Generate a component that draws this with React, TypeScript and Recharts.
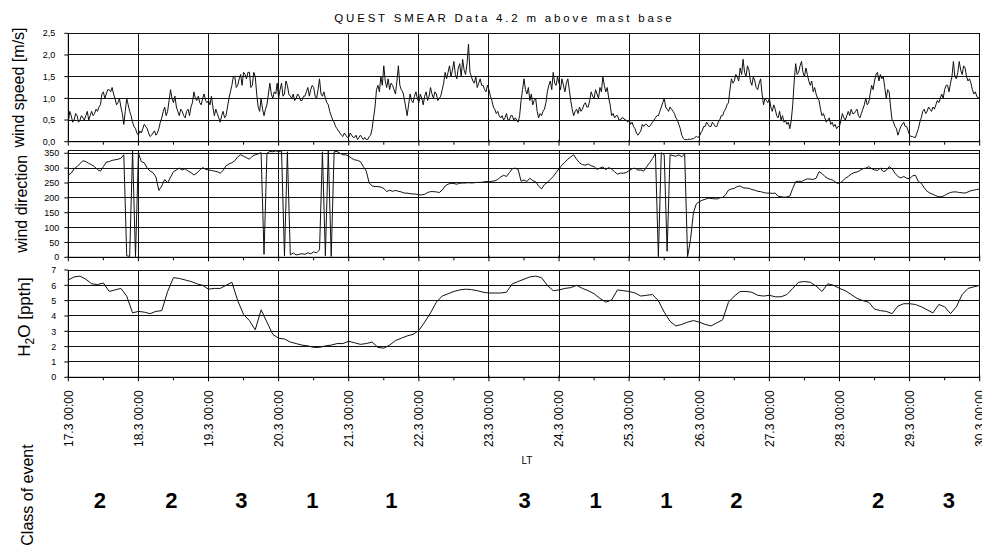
import React from 'react';
import { LineChart, Line, XAxis, YAxis, CartesianGrid, ScatterChart, Scatter } from 'recharts';

const FONT = '"Liberation Sans", Arial, sans-serif';
const W = 982;
const H = 546;

// half-hourly wind speed [m/s], one row per day, 17.3 00:00 .. 30.3 00:00
const WIND_SPEED = [
  0.45, 0.7, 0.6, 0.45, 0.5, 0.65, 0.6, 0.45, 0.5, 0.6, 0.55, 0.5, 0.6, 0.7, 0.5, 0.6, 0.7, 0.6, 0.65, 0.75, 0.7, 0.8, 0.85, 1.1,
  1.15, 1.0, 1.1, 1.2, 1.2, 1.15, 1.25, 1.1, 1.0, 0.85, 0.9, 1.0, 0.8, 0.65, 0.4, 0.7, 1.0, 0.85, 0.7, 0.6, 0.45, 0.35, 0.3, 0.2,
  0.15, 0.25, 0.2, 0.3, 0.4, 0.35, 0.3, 0.2, 0.12, 0.15, 0.2, 0.25, 0.15, 0.2, 0.3, 0.45, 0.55, 0.7, 0.8, 0.6, 0.7, 0.95, 1.2, 1.0,
  0.9, 1.05, 0.8, 0.7, 0.6, 0.75, 0.7, 0.6, 0.55, 0.7, 0.75, 0.6, 0.8, 0.9, 1.15, 1.0, 0.95, 1.05, 0.9, 0.85, 1.0, 1.1, 0.95, 0.9,
  0.95, 0.85, 1.05, 0.8, 0.6, 0.75, 0.65, 0.55, 0.45, 0.6, 0.7, 0.55, 0.6, 0.8, 1.0, 1.15, 1.3, 1.5, 1.5, 1.25, 1.3, 1.45, 1.55, 1.3,
  1.6, 1.55, 1.45, 1.6, 1.6, 1.25, 1.3, 1.6, 1.5, 1.1, 0.8, 0.7, 1.0, 0.75, 0.6, 0.75, 0.85, 1.1, 1.35, 1.1, 1.0, 1.15, 1.1, 1.35,
  1.0, 1.2, 1.35, 1.05, 1.1, 1.4, 1.3, 1.1, 1.05, 1.0, 1.1, 0.95, 1.0, 1.1, 1.05, 0.95, 0.95, 1.05, 1.05, 1.15, 1.25, 1.05, 1.2, 1.3,
  1.25, 1.05, 1.0, 1.2, 1.45, 1.1, 1.05, 1.15, 1.0, 0.9, 0.85, 0.7, 0.6, 0.5, 0.45, 0.35, 0.3, 0.25, 0.2, 0.15, 0.12, 0.2, 0.15, 0.1,
  0.1, 0.2, 0.15, 0.1, 0.1, 0.15, 0.05, 0.1, 0.15, 0.1, 0.05, 0.1, 0.05, 0.05, 0.12, 0.15, 0.3, 0.55, 0.8, 1.2, 1.3, 1.15, 1.5, 1.3,
  1.75, 1.4, 1.25, 1.45, 1.2, 1.35, 1.3, 1.2, 1.1, 1.4, 1.75, 1.3, 1.2, 1.15, 1.0, 0.8, 0.6, 0.85, 1.1, 0.95, 0.9, 1.05, 1.15, 1.0,
  0.9, 1.1, 1.0, 0.85, 1.05, 1.15, 0.95, 1.05, 1.25, 1.1, 1.0, 1.15, 1.1, 0.95, 1.0, 1.05, 1.2, 1.35, 1.6, 1.45, 1.6, 1.75, 1.5, 1.65,
  1.85, 1.55, 1.45, 1.7, 1.8, 1.5, 1.9, 1.65, 1.55, 1.8, 2.25, 1.6, 1.5, 1.4, 1.35, 1.5, 1.25, 1.35, 1.45, 1.3, 1.3, 1.2, 1.15, 1.3,
  1.2, 1.05, 0.95, 0.8, 0.75, 0.65, 0.7, 0.6, 0.55, 0.6, 0.5, 0.55, 0.65, 0.5, 0.5, 0.6, 0.6, 0.5, 0.55, 0.5, 0.45, 0.6, 0.95, 1.2,
  1.45, 1.2, 1.1, 1.25, 0.95, 1.1, 0.85, 0.95, 1.0, 0.7, 0.55, 0.65, 0.6, 0.7, 0.75, 0.9, 1.15, 1.3, 1.4, 1.2, 1.6, 1.35, 1.3, 1.5,
  1.35, 1.2, 1.45, 1.3, 1.15, 1.35, 1.45, 1.2, 0.95, 0.75, 0.6, 0.7, 0.75, 0.65, 0.8, 0.7, 0.75, 0.85, 0.9, 0.8, 0.8, 0.95, 1.15, 1.05,
  1.0, 1.2, 1.1, 1.0, 1.25, 1.15, 1.5, 1.3, 1.15, 1.25, 1.0, 0.85, 0.6, 0.65, 0.55, 0.6, 0.6, 0.5, 0.5, 0.55, 0.55, 0.5, 0.5, 0.45,
  0.5, 0.4, 0.45, 0.35, 0.3, 0.2, 0.15, 0.2, 0.25, 0.4, 0.35, 0.4, 0.4, 0.35, 0.35, 0.4, 0.45, 0.5, 0.55, 0.6, 0.6, 0.7, 0.8, 0.9,
  1.0, 0.8, 0.75, 0.7, 0.8, 0.75, 0.7, 0.65, 0.55, 0.5, 0.4, 0.3, 0.15, 0.08, 0.05, 0.05, 0.05, 0.06, 0.05, 0.07, 0.07, 0.1, 0.12, 0.1,
  0.12, 0.2, 0.25, 0.35, 0.35, 0.45, 0.4, 0.35, 0.35, 0.45, 0.4, 0.35, 0.35, 0.45, 0.5, 0.6, 0.6, 0.7, 0.75, 0.85, 0.9, 1.2, 1.45, 1.35,
  1.4, 1.55, 1.5, 1.4, 1.7, 1.55, 1.9, 1.6, 1.5, 1.75, 1.65, 1.4, 1.3, 1.5, 1.4, 1.25, 1.2, 1.35, 1.45, 1.1, 0.85, 1.0, 0.95, 0.9,
  1.0, 0.8, 0.7, 0.85, 0.75, 0.6, 0.55, 0.7, 0.5, 0.6, 0.45, 0.5, 0.4, 0.45, 0.3, 0.5, 0.85, 1.4, 1.8, 1.55, 1.6, 1.75, 1.85, 1.6,
  1.5, 1.7, 1.55, 1.4, 1.3, 1.4, 1.15, 1.25, 1.1, 1.0, 0.95, 0.75, 0.6, 0.65, 0.55, 0.45, 0.5, 0.55, 0.4, 0.45, 0.35, 0.4, 0.3, 0.35,
  0.35, 0.5, 0.65, 0.55, 0.5, 0.6, 0.7, 0.6, 0.75, 0.65, 0.65, 0.7, 0.75, 0.6, 0.55, 0.65, 0.75, 0.85, 1.0, 0.85, 0.9, 1.1, 1.3, 1.2,
  1.4, 1.55, 1.6, 1.4, 1.55, 1.45, 1.5, 1.25, 1.0, 1.2, 1.15, 0.8, 0.5, 0.45, 0.35, 0.3, 0.15, 0.25, 0.35, 0.4, 0.45, 0.35, 0.35, 0.25,
  0.15, 0.12, 0.12, 0.1, 0.1, 0.2, 0.3, 0.45, 0.55, 0.7, 0.75, 0.65, 0.7, 0.8, 0.75, 0.7, 0.8, 0.75, 0.85, 0.95, 0.9, 1.0, 1.1, 1.0,
  1.2, 1.3, 1.3, 1.15, 1.35, 1.5, 1.85, 1.5, 1.45, 1.6, 1.85, 1.65, 1.55, 1.75, 1.7, 1.5, 1.4, 1.45, 1.35, 1.2, 1.1, 1.15, 1.05, 1.0,
  1.05,
];

// hourly wind direction [deg]
const WIND_DIR = [
  277, 283, 298, 305, 315, 325, 322, 316, 311, 305, 295, 290, 305, 320, 322, 326, 328, 330, 333, 345, 5, 3, 358, 2,
  350, 322, 318, 300, 290, 285, 270, 225, 240, 262, 250, 270, 288, 294, 300, 294, 298, 290, 285, 277, 283, 294, 302, 296,
  294, 292, 290, 288, 283, 292, 308, 314, 318, 325, 338, 345, 340, 335, 330, 340, 345, 348, 352, 10, 350, 356, 355, 358,
  356, 358, 5, 355, 8, 15, 8, 10, 12, 10, 15, 12, 18, 15, 25, 355, 5, 358, 3, 355, 356, 350, 345, 345,
  340, 333, 328, 326, 322, 305, 290, 250, 240, 238, 238, 236, 232, 221, 226, 222, 225, 222, 220, 216, 216, 214, 213, 213,
  210, 210, 212, 218, 221, 221, 220, 218, 226, 240, 246, 249, 248, 246, 249, 250, 250, 251, 250, 251, 252, 252, 253, 255,
  254, 256, 257, 262, 270, 276, 272, 285, 298, 300, 295, 256, 260, 255, 266, 258, 254, 240, 230, 245, 252, 262, 272, 285,
  298, 310, 320, 330, 338, 345, 330, 318, 312, 310, 314, 308, 305, 296, 300, 304, 295, 302, 297, 288, 280, 283, 283, 285,
  292, 298, 300, 293, 294, 290, 305, 318, 332, 350, 2, 352, 345, 20, 345, 342, 340, 345, 338, 348, 2, 60, 150, 180,
  187, 192, 195, 199, 198, 197, 196, 200, 202, 210, 226, 230, 232, 238, 240, 234, 233, 232, 228, 226, 222, 221, 218, 216,
  216, 215, 216, 205, 204, 202, 203, 206, 232, 254, 256, 255, 260, 264, 263, 262, 266, 288, 282, 272, 265, 262, 258, 250,
  249, 256, 266, 272, 280, 285, 287, 292, 298, 300, 305, 298, 294, 292, 300, 288, 292, 305, 298, 283, 272, 267, 272, 266,
  264, 274, 276, 255, 249, 234, 222, 216, 212, 207, 204, 204, 208, 214, 218, 220, 220, 218, 217, 216, 220, 224, 226, 228,
  230,
];

// 2-hourly H2O [ppth]
const H2O = [
  6.35, 6.55, 6.6, 6.4, 6.1, 6.05, 6.15, 5.6, 5.7, 5.8, 5.3, 4.2,
  4.3, 4.25, 4.15, 4.3, 4.35, 5.6, 6.5, 6.45, 6.35, 6.25, 6.1, 6.0,
  5.75, 5.8, 5.8, 6.0, 6.2, 5.0, 4.1, 3.7, 3.1, 4.4, 3.6, 2.8,
  2.55, 2.5, 2.3, 2.2, 2.1, 2.05, 1.95, 1.95, 2.05, 2.1, 2.2, 2.2,
  2.35, 2.25, 2.15, 2.2, 2.3, 1.95, 1.9, 2.1, 2.4, 2.55, 2.7, 2.8,
  3.05, 3.6, 4.2, 4.9, 5.3, 5.45, 5.6, 5.7, 5.75, 5.72, 5.65, 5.55,
  5.5, 5.5, 5.5, 5.55, 6.1, 6.25, 6.4, 6.55, 6.6, 6.5, 6.0, 5.65,
  5.7, 5.8, 5.85, 6.0, 5.8, 5.65, 5.45, 5.15, 4.9, 5.05, 5.7, 5.65,
  5.6, 5.5, 5.3, 5.35, 5.4, 5.0, 4.25, 3.65, 3.35, 3.45, 3.6, 3.7,
  3.6, 3.45, 3.35, 3.55, 3.75, 4.9, 5.3, 5.6, 5.6, 5.55, 5.35, 5.3,
  5.35, 5.25, 5.25, 5.4, 5.8, 6.2, 6.25, 6.2, 5.95, 5.6, 6.1, 6.0,
  5.8, 5.65, 5.4, 5.15, 5.0, 4.9, 4.45, 4.35, 4.3, 4.15, 4.65, 4.8,
  4.8, 4.75, 4.6, 4.4, 4.2, 4.75, 4.6, 4.15, 4.6, 5.4, 5.8, 5.9,
  6.0,
];

// class of event, placed at day offsets from 17.3 00:00
const CLASS_DAY = [0.45, 1.47, 2.47, 3.48, 4.61, 6.51, 7.52, 8.53, 9.53, 11.55, 12.56];
const CLASS_VALUE = [2, 2, 3, 1, 1, 3, 1, 1, 2, 2, 3];

const DAY_TICKS = [0, 1, 2, 3, 4, 5, 6, 7, 8, 9, 10, 11, 12, 13];
const HALF_DAY_TICKS = DAY_TICKS.flatMap((d) => (d < 13 ? [d, d + 0.5] : [d]));
const SPEED_TICKS = [0, 0.5, 1, 1.5, 2, 2.5];
const DIR_TICKS = [0, 50, 100, 150, 200, 250, 300, 350];
const DIR_GRID = [...DIR_TICKS, 360];
const H2O_TICKS = [0, 1, 2, 3, 4, 5, 6, 7];

const speedData = WIND_SPEED.map((v, i) => ({ t: i / 48, v }));
const dirData = WIND_DIR.map((v, i) => ({ t: i / 24, v }));
const h2oData = H2O.map((v, i) => ({ t: i / 12, v }));
const classData = CLASS_DAY.map((t, i) => ({ t, y: 0.5, c: CLASS_VALUE[i] }));

const DayTick = (props: any) => {
  const { x, y, payload, showLabel } = props;
  const major = Number.isInteger(payload.value);
  const ly = y + 13;
  return (
    <g>
      <line x1={x} x2={x} y1={major ? y - 2 : y} y2={y + (major ? 4 : 3)} stroke="#000" />
      {major && showLabel && (
        <text
          x={x}
          y={ly}
          transform={`rotate(-90 ${x} ${ly})`}
          textAnchor="end"
          dy="0.36em"
          fontSize={12}
          fontFamily={FONT}
          fill="#000"
        >
          {`${17 + payload.value}.3 00:00`}
        </text>
      )}
    </g>
  );
};

interface PanelProps {
  data: { t: number; v: number }[];
  top: number;
  bottom: number;
  domain: [number, number];
  ticks: number[];
  grid: number[];
  fmt: (v: number) => string;
  tickMargin: number;
  showLabels?: boolean;
}

// x axis is 1px tall (0 would not be drawn), so bottom margin is one less
const Panel: React.FC<PanelProps> = ({ data, top, bottom, domain, ticks, grid, fmt, tickMargin, showLabels = false }) => (
  <div style={{ position: 'absolute', left: 0, top: 0 }}>
    <LineChart width={W} height={H} data={data} margin={{ top, bottom: H - bottom - 1, left: 8.3, right: 2.3 }}>
      <CartesianGrid stroke="#111" verticalValues={DAY_TICKS} horizontalValues={grid} shapeRendering="crispEdges" />
      <XAxis
        type="number"
        dataKey="t"
        domain={[0, 13]}
        ticks={HALF_DAY_TICKS}
        interval={0}
        height={1}
        allowDataOverflow
        axisLine={{ stroke: '#000' }}
        tickLine={false}
        tickSize={0}
        tickMargin={0}
        tick={<DayTick showLabel={showLabels} />}
      />
      <YAxis
        type="number"
        domain={domain}
        ticks={ticks}
        interval={0}
        width={60}
        allowDataOverflow
        tickSize={4}
        tickMargin={tickMargin}
        tickFormatter={fmt}
        axisLine={{ stroke: '#000' }}
        tickLine={{ stroke: '#000' }}
        tick={{ fontSize: 9, fill: '#000', fontFamily: FONT }}
      />
      <Line type="linear" dataKey="v" stroke="#111" strokeWidth={1} dot={false} isAnimationActive={false} />
    </LineChart>
  </div>
);

const ClassLabel = (props: any) => (
  <text x={props.cx} y={props.cy} dy="0.36em" textAnchor="middle" fontSize={22} fontWeight="bold" fontFamily={FONT} fill="#000">
    {props.payload.c}
  </text>
);

export default function App() {
  return (
    <div style={{ position: 'absolute', left: 0, top: 0, width: W, height: H, background: '#fff', fontFamily: FONT }}>
      <Panel
        data={speedData}
        top={33.3}
        bottom={141.7}
        domain={[0, 2.5]}
        ticks={SPEED_TICKS}
        grid={SPEED_TICKS}
        fmt={(v) => v.toFixed(1).replace('.', ',')}
        tickMargin={9}
      />
      <Panel
        data={dirData}
        top={150.3}
        bottom={257.3}
        domain={[0, 360]}
        ticks={DIR_TICKS}
        grid={DIR_GRID}
        fmt={(v) => String(v)}
        tickMargin={5}
      />
      <Panel
        data={h2oData}
        top={270}
        bottom={377.3}
        domain={[0, 7]}
        ticks={H2O_TICKS}
        grid={H2O_TICKS}
        fmt={(v) => String(v)}
        tickMargin={8}
        showLabels
      />
      <div style={{ position: 'absolute', left: 0, top: 0 }}>
        <ScatterChart width={W} height={H} margin={{ top: 470, bottom: 16, left: 68.3, right: 2.3 }}>
          <XAxis type="number" dataKey="t" domain={[0, 13]} hide />
          <YAxis type="number" dataKey="y" domain={[0, 1]} hide />
          <Scatter data={classData} shape={<ClassLabel />} isAnimationActive={false} />
        </ScatterChart>
      </div>
      <svg width={W} height={H} style={{ position: 'absolute', left: 0, top: 0 }} fontFamily={FONT} fill="#000">
        <text x={504.4} y={21.5} textAnchor="middle" fontSize={11.5} letterSpacing={2.8}>
          QUEST SMEAR Data 4.2 m above mast base
        </text>
        <text transform="translate(24 87.5) rotate(-90)" textAnchor="middle" fontSize={16}>
          wind speed [m/s]
        </text>
        <text transform="translate(27 203.8) rotate(-90)" textAnchor="middle" fontSize={16}>
          wind direction
        </text>
        <text transform="translate(30 317) rotate(-90)" textAnchor="middle" fontSize={17}>
          H<tspan fontSize={12} dy={4}>2</tspan>
          <tspan dy={-4}>O [ppth]</tspan>
        </text>
        <text x={527} y={464} textAnchor="middle" fontSize={10}>
          LT
        </text>
        <text transform="translate(33 495) rotate(-90)" textAnchor="middle" fontSize={16}>
          Class of event
        </text>
      </svg>
    </div>
  );
}
